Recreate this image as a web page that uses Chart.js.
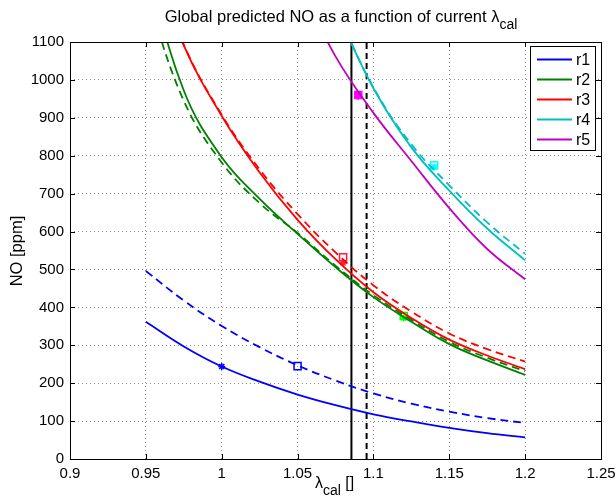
<!DOCTYPE html>
<html>
<head>
<meta charset="utf-8">
<script src="https://cdn.jsdelivr.net/npm/chart.js@4.4.0/dist/chart.umd.min.js"></script>
<style>
html, body { margin: 0; padding: 0; background: #fff; }
canvas { display: block; }
</style>
</head>
<body>
<canvas id="noChart" width="616" height="502"></canvas>
<script>
// lambda_cal grid and predicted NO [ppm] per reactor (solid = current, dashed = alternative)
const lambdaCal = [0.95, 0.975, 1.0, 1.025, 1.05, 1.075, 1.1, 1.125, 1.15, 1.175, 1.2];
const r1 = [362, 297, 244, 204, 170, 142, 118, 99, 82, 68, 57];
const r1Dash = [496, 418, 351, 295, 247, 207, 173, 146, 125, 108, 95];
const r2 = [1310, 972, 796, 686, 594, 506, 427, 362, 303, 260, 222];
const r2Dash = [1230, 945, 782, 675, 596, 510, 432, 367, 309, 267, 232];
const r3 = [1365, 1091, 905, 756, 631, 527, 440, 372, 315, 273, 237];
const r3Dash = [1365, 1093, 908, 764, 646, 545, 458, 389, 331, 290, 257];
const r4 = [null, null, null, null, null, 1188, 978, 822, 708, 608, 524];
const r4Dash = [null, null, null, null, null, 1188, 980, 830, 722, 624, 541];
const r5 = [null, null, null, null, 1264, 1062, 913, 786, 662, 554, 474];

// operating points
const starLambda = [1.0, 1.12, 1.08, 1.14, 1.09];
const starNO = [244, 372, 517, 770, 957];
const squareLambda = [1.05, 1.12, 1.08, 1.14, 1.09];
const squareNO = [245, 377, 532, 775, 960];

// vertical reference lines (solid, dashed)
const lambdaLines = [1.0855, 1.0955];

const seriesNames = ["r1", "r2", "r3", "r4", "r5"];
const xTickLabels = ["0.9", "0.95", "1", "1.05", "1.1", "1.15", "1.2", "1.25"];
const yTickLabels = ["0", "100", "200", "300", "400", "500", "600", "700", "800", "900", "1000", "1100"];

const lineColors = ["#0000ff", "#008000", "#ff0000", "#00bfbf", "#bf00bf"];
const markColors = ["#0000ff", "#00ff00", "#ff1a40", "#00ffff", "#ff00ff"];
const FONT = '"Liberation Sans", Arial, sans-serif';

function pts(vals) {
    return lambdaCal.map((x, i) => ({ x: x, y: vals[i] }));
}

function curve(vals, color, dashed) {
    return {
        data: pts(vals),
        showLine: true,
        borderColor: color,
        borderWidth: 1.8,
        borderDash: dashed ? [8, 5] : [],
        pointRadius: 0,
        tension: 0.4,
        fill: false,
        clip: 0
    };
}

let datasets = [
    curve(r1, lineColors[0], false),
    curve(r2, lineColors[1], false),
    curve(r3, lineColors[2], false),
    curve(r4, lineColors[3], false),
    curve(r5, lineColors[4], false),
    curve(r1Dash, lineColors[0], true),
    curve(r2Dash, lineColors[1], true),
    curve(r3Dash, lineColors[2], true),
    curve(r4Dash, lineColors[3], true)
];

lambdaLines.forEach((v, i) => {
    datasets.push({
        data: [{ x: v, y: 0 }, { x: v, y: 1100 }],
        showLine: true,
        borderColor: "#000",
        borderWidth: 2,
        borderDash: i === 0 ? [] : [6, 4],
        pointRadius: 0,
        tension: 0,
        clip: 0
    });
});

for (let i = 0; i < 5; i++) {
    datasets.push({
        data: [{ x: squareLambda[i], y: squareNO[i] }],
        pointStyle: "rect",
        pointRadius: 5,
        borderWidth: 1.5,
        borderColor: markColors[i],
        backgroundColor: i === 4 ? markColors[i] : "rgba(0,0,0,0)"
    });
    datasets.push({
        data: [{ x: starLambda[i], y: starNO[i] }],
        pointStyle: "star",
        pointRadius: 3.5,
        borderWidth: 1.5,
        borderColor: markColors[i],
        backgroundColor: markColors[i]
    });
}

function subText(c, parts, x, y) {
    // parts: [text, size, dy]
    parts.forEach(p => {
        c.font = p[1] + "px " + FONT;
        c.fillText(p[0], x, y + p[2]);
        x += c.measureText(p[0]).width;
    });
}
function subWidth(c, parts) {
    let w = 0;
    parts.forEach(p => {
        c.font = p[1] + "px " + FONT;
        w += c.measureText(p[0]).width;
    });
    return w;
}

const decor = {
    id: "decor",
    afterDraw(chart) {
        const c = chart.ctx;
        const a = chart.chartArea;
        const xs = chart.scales.x, ys = chart.scales.y;
        c.save();
        // frame
        c.strokeStyle = "#000";
        c.lineWidth = 1;
        c.strokeRect(a.left + 0.5, a.top + 0.5, a.right - a.left, a.bottom - a.top);
        // inward ticks
        c.beginPath();
        xTickLabels.forEach(t => {
            const px = Math.round(xs.getPixelForValue(parseFloat(t))) + 0.5;
            c.moveTo(px, a.bottom); c.lineTo(px, a.bottom - 5);
            c.moveTo(px, a.top); c.lineTo(px, a.top + 5);
        });
        yTickLabels.forEach(t => {
            const py = Math.round(ys.getPixelForValue(parseFloat(t))) + 0.5;
            c.moveTo(a.left, py); c.lineTo(a.left + 5, py);
            c.moveTo(a.right, py); c.lineTo(a.right - 5, py);
        });
        c.stroke();

        // legend
        const lx = 530, ly = 46, lw = 65, lh = 104;
        c.fillStyle = "#fff";
        c.fillRect(lx, ly, lw, lh);
        c.strokeRect(lx + 0.5, ly + 0.5, lw, lh);
        c.font = "16px " + FONT;
        c.textBaseline = "middle";
        c.textAlign = "left";
        seriesNames.forEach((name, i) => {
            const y = 59.5 + i * 20;
            c.strokeStyle = lineColors[i];
            c.lineWidth = 1.8;
            c.beginPath();
            c.moveTo(537, y); c.lineTo(572, y);
            c.stroke();
            c.fillStyle = "#000";
            c.fillText(name, 576, y + 1);
        });

        // title with subscript
        c.fillStyle = "#000";
        c.textBaseline = "alphabetic";
        const title = [["Global predicted NO as a function of current \u03bb", 16.5, 0], ["cal", 14, 7]];
        subText(c, title, 341 - subWidth(c, title) / 2, 22);

        // x label
        const xl = [["\u03bb", 16, 0], ["cal", 14, 7], [" []", 16, 0]];
        subText(c, xl, 315, 488);

        // y label
        c.font = "16.5px " + FONT;
        c.translate(17, 251);
        c.rotate(-Math.PI / 2);
        c.textAlign = "center";
        c.textBaseline = "middle";
        c.fillText("NO [ppm]", 0, 0);
        c.restore();
    }
};

let ctx = document.getElementById("noChart").getContext("2d");
new Chart(ctx, {
    type: "scatter",
    data: { datasets: datasets },
    plugins: [decor],
    options: {
        responsive: false,
        animation: false,
        layout: { padding: { left: 0, right: 15, top: 42, bottom: 0 } },
        elements: { line: { capBezierPoints: false } },
        plugins: { legend: { display: false }, tooltip: { enabled: false } },
        scales: {
            x: {
                type: "linear",
                min: 0.9,
                max: 1.25,
                afterFit: s => { s.height = 43; s.paddingRight = 0; s.paddingLeft = 0; },
                ticks: {
                    stepSize: 0.05,
                    color: "#000",
                    font: { family: FONT, size: 15 },
                    padding: 6,
                    maxRotation: 0,
                    callback: v => xTickLabels[Math.round((v - 0.9) / 0.05)]
                },
                grid: { color: "#8c8c8c", drawTicks: false },
                border: { display: false, dash: [1, 3] }
            },
            y: {
                min: 0,
                max: 1100,
                afterFit: s => { s.width = 70; s.paddingTop = 0; s.paddingBottom = 0; },
                ticks: {
                    stepSize: 100,
                    color: "#000",
                    font: { family: FONT, size: 15 },
                    padding: 6,
                    callback: v => yTickLabels[Math.round(v / 100)]
                },
                grid: { color: "#8c8c8c", drawTicks: false },
                border: { display: false, dash: [1, 3] }
            }
        }
    }
});
</script>
</body>
</html>
